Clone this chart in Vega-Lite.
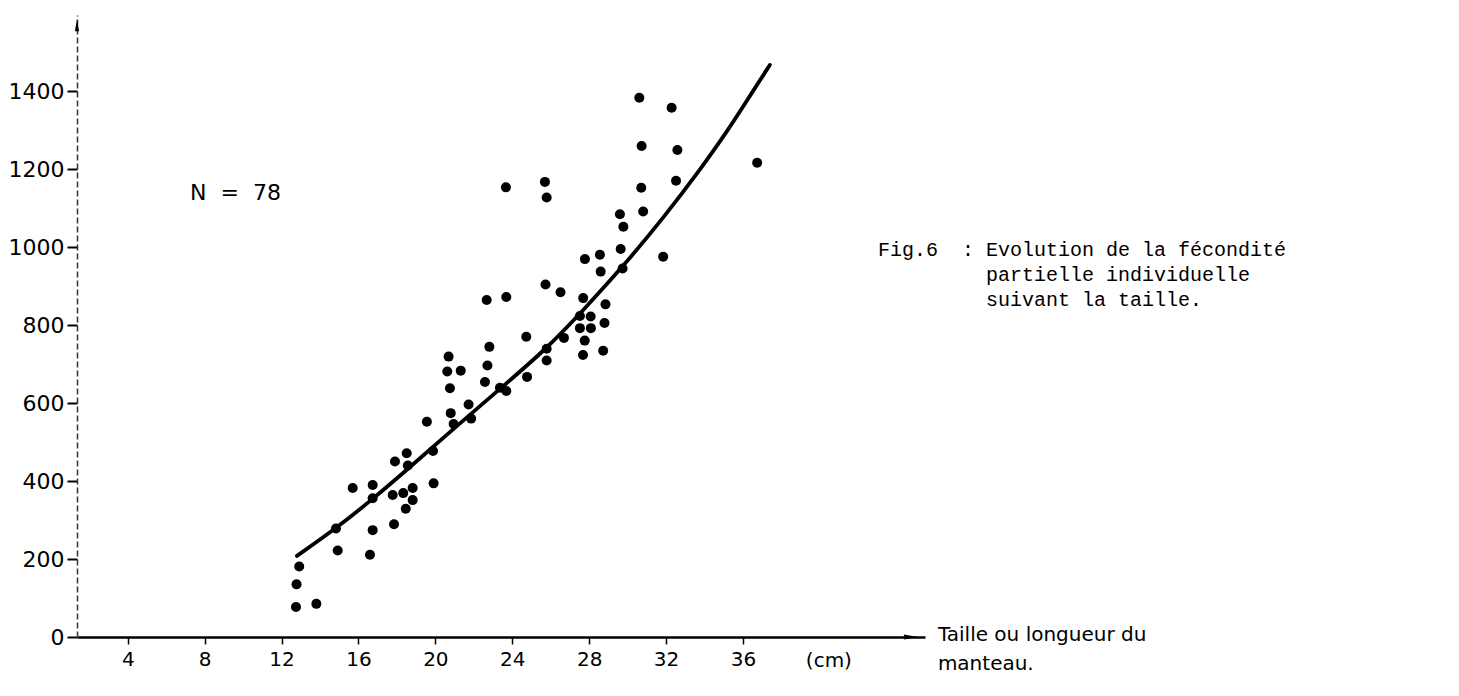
{
  "$schema": "https://vega.github.io/schema/vega-lite/v6.json",
  "autosize": {"type": "none"},
  "width": 848,
  "height": 622,
  "padding": {"left": 77, "top": 15, "right": 534, "bottom": 59},
  "background": "white",
  "config": {"view": {"stroke": null}},
  "datasets": {
    "points": [
      {"taille": 12.92, "fecondite": 181}, {"taille": 12.78, "fecondite": 135}, {"taille": 12.75, "fecondite": 77},
      {"taille": 13.81, "fecondite": 85}, {"taille": 14.92, "fecondite": 222}, {"taille": 16.6, "fecondite": 211},
      {"taille": 16.74, "fecondite": 274}, {"taille": 17.85, "fecondite": 289}, {"taille": 14.83, "fecondite": 278},
      {"taille": 15.7, "fecondite": 382}, {"taille": 16.74, "fecondite": 390}, {"taille": 16.74, "fecondite": 356},
      {"taille": 17.78, "fecondite": 364}, {"taille": 18.33, "fecondite": 369}, {"taille": 18.82, "fecondite": 382},
      {"taille": 18.82, "fecondite": 351}, {"taille": 18.46, "fecondite": 329}, {"taille": 17.9, "fecondite": 450},
      {"taille": 18.51, "fecondite": 471}, {"taille": 18.57, "fecondite": 440}, {"taille": 19.91, "fecondite": 394},
      {"taille": 19.88, "fecondite": 477}, {"taille": 19.56, "fecondite": 552}, {"taille": 20.8, "fecondite": 574},
      {"taille": 20.95, "fecondite": 546}, {"taille": 21.73, "fecondite": 596}, {"taille": 21.86, "fecondite": 560},
      {"taille": 20.76, "fecondite": 638}, {"taille": 20.62, "fecondite": 681}, {"taille": 21.32, "fecondite": 683},
      {"taille": 20.69, "fecondite": 719}, {"taille": 22.58, "fecondite": 654}, {"taille": 22.71, "fecondite": 696},
      {"taille": 22.81, "fecondite": 744}, {"taille": 23.69, "fecondite": 631}, {"taille": 24.77, "fecondite": 667},
      {"taille": 24.73, "fecondite": 770}, {"taille": 25.79, "fecondite": 709}, {"taille": 25.79, "fecondite": 739},
      {"taille": 26.69, "fecondite": 767}, {"taille": 27.68, "fecondite": 723}, {"taille": 27.77, "fecondite": 760},
      {"taille": 27.52, "fecondite": 792}, {"taille": 28.09, "fecondite": 792}, {"taille": 27.52, "fecondite": 823},
      {"taille": 28.08, "fecondite": 822}, {"taille": 28.8, "fecondite": 805}, {"taille": 28.73, "fecondite": 734},
      {"taille": 28.85, "fecondite": 853}, {"taille": 27.69, "fecondite": 869}, {"taille": 22.67, "fecondite": 864},
      {"taille": 23.69, "fecondite": 872}, {"taille": 25.73, "fecondite": 904}, {"taille": 26.51, "fecondite": 884},
      {"taille": 27.78, "fecondite": 969}, {"taille": 28.56, "fecondite": 980}, {"taille": 28.6, "fecondite": 937},
      {"taille": 29.74, "fecondite": 945}, {"taille": 29.64, "fecondite": 995}, {"taille": 31.85, "fecondite": 975},
      {"taille": 29.6, "fecondite": 1084}, {"taille": 30.81, "fecondite": 1091}, {"taille": 29.78, "fecondite": 1052},
      {"taille": 30.71, "fecondite": 1152}, {"taille": 32.52, "fecondite": 1170}, {"taille": 30.73, "fecondite": 1259},
      {"taille": 32.59, "fecondite": 1249}, {"taille": 30.61, "fecondite": 1383}, {"taille": 32.29, "fecondite": 1357},
      {"taille": 36.74, "fecondite": 1216}, {"taille": 23.67, "fecondite": 1153}, {"taille": 25.7, "fecondite": 1167},
      {"taille": 25.79, "fecondite": 1127}, {"taille": 23.36, "fecondite": 639}
    ],
    "courbe": [
      {"taille": 12.8, "fecondite": 208}, {"taille": 14.8, "fecondite": 277}, {"taille": 16.7, "fecondite": 352},
      {"taille": 18.6, "fecondite": 432}, {"taille": 20.9, "fecondite": 532}, {"taille": 23.5, "fecondite": 642},
      {"taille": 25.8, "fecondite": 740}, {"taille": 27.6, "fecondite": 833}, {"taille": 29.8, "fecondite": 952},
      {"taille": 31.9, "fecondite": 1077}, {"taille": 33.8, "fecondite": 1200}, {"taille": 35.2, "fecondite": 1298},
      {"taille": 36.2, "fecondite": 1375}, {"taille": 37.4, "fecondite": 1467}
    ]
  },
  "layer": [
    {
      "data": {"name": "courbe"},
      "mark": {"type": "line", "color": "black", "strokeWidth": 3.8, "interpolate": "basis", "strokeCap": "round", "clip": false},
      "encoding": {
        "x": {
          "field": "taille", "type": "quantitative",
          "scale": {"domain": [1.36, 45.47], "nice": false, "zero": false},
          "axis": {
            "values": [4, 8, 12, 16, 20, 24, 28, 32, 36],
            "title": null, "grid": false,
            "domainColor": "black", "domainWidth": 2.5,
            "tickColor": "black", "tickWidth": 1.5, "tickSize": 7,
            "labelFont": "DejaVu Sans", "labelFontSize": 20, "labelColor": "black",
            "labelPadding": 5
          }
        },
        "y": {
          "field": "fecondite", "type": "quantitative",
          "scale": {"domain": [0, 1595], "nice": false},
          "axis": {
            "values": [0, 200, 400, 600, 800, 1000, 1200, 1400],
            "format": "d",
            "title": null, "grid": false,
            "domainColor": "#333", "domainWidth": 1.5, "domainDash": [6, 3],
            "tickColor": "black", "tickWidth": 2, "tickSize": 10,
            "labelFont": "DejaVu Sans", "labelFontSize": 22, "labelColor": "black",
            "labelPadding": 3, "labelFlush": false
          }
        }
      }
    },
    {
      "data": {"name": "points"},
      "mark": {"type": "circle", "color": "black", "opacity": 1, "size": 100},
      "encoding": {
        "x": {"field": "taille", "type": "quantitative"},
        "y": {"field": "fecondite", "type": "quantitative"}
      }
    },
    {
      "data": {"values": [{}]},
      "mark": {"type": "point", "shape": "M-1,-0.35L1,0L-1,0.35Z", "filled": true, "color": "black", "opacity": 1, "size": 196, "clip": false},
      "encoding": {"x": {"datum": 44.74}, "y": {"datum": 0}}
    },
    {
      "data": {"values": [{}]},
      "mark": {"type": "point", "shape": "M-0.35,1L0,-1L0.35,1Z", "filled": true, "color": "black", "opacity": 1, "size": 144, "clip": false},
      "encoding": {"x": {"datum": 1.36}, "y": {"datum": 1569}}
    },
    {
      "data": {"values": [{}]},
      "mark": {"type": "text", "font": "DejaVu Sans", "fontSize": 22, "color": "black", "align": "left", "baseline": "middle", "text": "N\u00a0\u00a0=\u00a0\u00a078"},
      "encoding": {"x": {"datum": 7.24}, "y": {"datum": 1138}}
    },
    {
      "data": {"values": [{}]},
      "mark": {"type": "text", "font": "Liberation Mono", "fontSize": 20, "color": "black", "align": "left", "baseline": "middle",
        "text": "Fig.6\u00a0\u00a0: Evolution de la fécondité"},
      "encoding": {"x": {"datum": 43.02}, "y": {"datum": 992}}
    },
    {
      "data": {"values": [{}]},
      "mark": {"type": "text", "font": "Liberation Mono", "fontSize": 20, "color": "black", "align": "left", "baseline": "middle",
        "text": ["partielle individuelle", "suivant la taille."], "lineHeight": 25},
      "encoding": {"x": {"datum": 48.64}, "y": {"datum": 928}}
    },
    {
      "data": {"values": [{}]},
      "mark": {"type": "text", "font": "DejaVu Sans", "fontSize": 20, "color": "black", "align": "left", "baseline": "middle", "clip": false, "text": "Taille ou longueur du"},
      "encoding": {"x": {"datum": 46.14}, "y": {"datum": 5}}
    },
    {
      "data": {"values": [{}]},
      "mark": {"type": "text", "font": "DejaVu Sans", "fontSize": 20, "color": "black", "align": "left", "baseline": "middle", "clip": false, "text": "manteau."},
      "encoding": {"x": {"datum": 46.14}, "y": {"datum": -70}}
    },
    {
      "data": {"values": [{}]},
      "mark": {"type": "text", "font": "DejaVu Sans", "fontSize": 20, "color": "black", "align": "center", "baseline": "middle", "clip": false, "text": "(cm)"},
      "encoding": {"x": {"datum": 40.47}, "y": {"datum": -62}}
    }
  ]
}
